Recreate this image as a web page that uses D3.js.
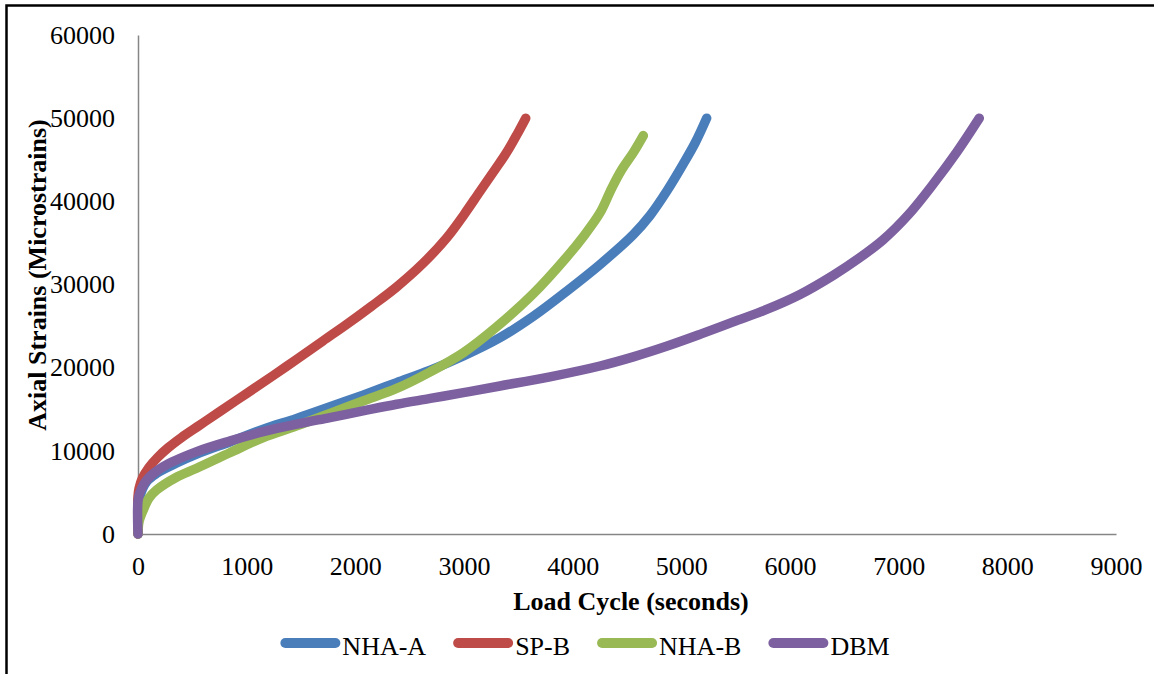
<!DOCTYPE html>
<html>
<head>
<meta charset="utf-8">
<script src="https://cdn.jsdelivr.net/npm/d3@7"></script>
<style>
  body { margin: 0; background: #fff; }
  svg text { font-family: "Liberation Serif", "Times New Roman", serif; fill: #000; }
</style>
</head>
<body>
<div id="app"></div>
<script>
// ----- Data -----
const seriesNames = ["NHA-A", "SP-B", "NHA-B", "DBM"];
const seriesColors = ["#4a7ebb", "#be4b48", "#98b954", "#7d60a0"];

// [load cycle (s), axial strain (microstrains)]
const nhaA = [
    [0, 0], [5, 2500], [20, 4600], [80, 6300], [172, 7300], [350, 8500],
    [540, 9600], [850, 11100], [1153, 12600], [1460, 13900], [1767, 15300],
    [2070, 16700], [2380, 18200], [2690, 19700], [2994, 21400], [3331, 23600],
    [3640, 26200], [3945, 29200], [4251, 32400], [4558, 36000], [4712, 38300],
    [4870, 41300], [5018, 44500], [5130, 47100], [5233, 50000]
];
const spB = [
    [0, 0], [0, 4500], [10, 5500], [40, 6700], [100, 8000], [180, 9200],
    [280, 10400], [400, 11600], [570, 13100], [750, 14700], [1000, 16900],
    [1250, 19100], [1460, 21000], [1700, 23200], [1920, 25200], [2150, 27400],
    [2380, 29700], [2620, 32500], [2840, 35600], [3000, 38400], [3147, 41200],
    [3290, 43900], [3393, 45900], [3490, 48100], [3568, 50000]
];
const nhaB = [
    [0, 0], [10, 1500], [49, 2900], [100, 4300], [172, 5300], [350, 6800],
    [540, 7900], [850, 9800], [1153, 11600], [1460, 13000], [1767, 14500],
    [2070, 16000], [2380, 17500], [2690, 19500], [2994, 21800], [3300, 24900],
    [3638, 28900], [3945, 33300], [4100, 35800], [4251, 38600], [4360, 41600],
    [4451, 43800], [4560, 45900], [4650, 47900]
];
const dbm = [
    [0, 0], [0, 4000], [18, 5000], [80, 6500], [233, 8100], [540, 9900],
    [850, 11200], [1153, 12300], [1460, 13200], [1767, 14000], [2070, 14800],
    [2380, 15600], [2690, 16300], [2994, 17000], [3331, 17800], [3791, 18900],
    [4251, 20200], [4558, 21300], [4870, 22600], [5171, 24000], [5478, 25500],
    [5785, 27000], [6092, 28800], [6398, 31100], [6629, 33100], [6859, 35400],
    [7090, 38400], [7319, 42100], [7534, 45900], [7742, 50000]
];
const seriesData = [nhaA, spB, nhaB, dbm];

const xTicks = [0, 1000, 2000, 3000, 4000, 5000, 6000, 7000, 8000, 9000];
const yTicks = [0, 10000, 20000, 30000, 40000, 50000, 60000];

// ----- Layout -----
const W = 1154, H = 674;
const plot = { left: 138, right: 1116, top: 35, bottom: 534 };
const fontSize = 26;
const axisColor = "#868686";

function main() {
    const svg = d3.select("#app").append("svg")
        .attr("width", W)
        .attr("height", H);

    // frame
    svg.append("rect")
        .attr("x", 6.5).attr("y", 5.5)
        .attr("width", 1200).attr("height", 720)
        .attr("fill", "#fff")
        .attr("stroke", "#000")
        .attr("stroke-width", 2.5);

    // scales
    const xScale = d3.scaleLinear()
        .domain([0, 9000])
        .range([plot.left, plot.right]);
    const yScale = d3.scaleLinear()
        .domain([0, 60000])
        .range([plot.bottom, plot.top]);

    // axes
    const xAxis = svg.append("g")
        .attr("transform", `translate(0, ${plot.bottom})`)
        .call(d3.axisBottom(xScale).tickValues(xTicks).tickSize(0).tickPadding(23).tickFormat(d3.format("d")));
    const yAxis = svg.append("g")
        .attr("transform", `translate(${plot.left}, 0)`)
        .call(d3.axisLeft(yScale).tickValues(yTicks).tickSize(0).tickPadding(23).tickFormat(d3.format("d")));

    [xAxis, yAxis].forEach(ax => {
        ax.select(".domain").attr("stroke", axisColor).attr("stroke-width", 1.5);
        ax.selectAll("text")
            .attr("font-size", fontSize)
            .attr("font-family", "Liberation Serif, Times New Roman, serif")
            .attr("fill", "#000");
    });

    // series lines (purple drawn last, on top)
    const line = d3.line()
        .x(d => xScale(d[0]))
        .y(d => yScale(d[1]))
        .curve(d3.curveCatmullRom.alpha(0.5));

    seriesData.forEach((data, i) => {
        svg.append("path")
            .datum(data)
            .attr("fill", "none")
            .attr("stroke", seriesColors[i])
            .attr("stroke-width", 9.5)
            .attr("stroke-linecap", "round")
            .attr("stroke-linejoin", "round")
            .attr("d", line);
    });

    // axis titles
    svg.append("text")
        .attr("x", 631).attr("y", 610)
        .attr("text-anchor", "middle")
        .attr("font-size", fontSize)
        .attr("font-weight", "bold")
        .text("Load Cycle (seconds)");

    svg.append("text")
        .attr("transform", "translate(46, 275) rotate(-90)")
        .attr("text-anchor", "middle")
        .attr("font-size", fontSize)
        .attr("font-weight", "bold")
        .text("Axial Strains (Microstrains)");

    // legend
    const legend = svg.append("g");
    const swatchLen = 60, swatchGap = 2, itemGap = 27, legendY = 643;
    let x = 0;
    seriesNames.forEach((name, i) => {
        const item = legend.append("g").attr("transform", `translate(${x}, 0)`);
        item.append("line")
            .attr("x1", 5).attr("x2", swatchLen - 5)
            .attr("y1", legendY).attr("y2", legendY)
            .attr("stroke", seriesColors[i])
            .attr("stroke-width", 10)
            .attr("stroke-linecap", "round");
        const t = item.append("text")
            .attr("x", swatchLen + swatchGap)
            .attr("y", legendY + 12)
            .attr("font-size", fontSize)
            .text(name);
        x += swatchLen + swatchGap + t.node().getComputedTextLength() + itemGap;
    });
    const legendWidth = x - itemGap;
    legend.attr("transform", `translate(${585 - legendWidth / 2}, 0)`);
}

main();
</script>
</body>
</html>
